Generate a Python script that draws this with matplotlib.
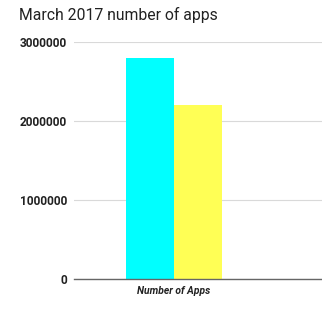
import matplotlib
matplotlib.use('Agg')
import matplotlib.pyplot as plt

# data
category = 'Number of Apps'
series_names = ['Google Play', 'Apple App Store']
values = [2800000, 2200000]
colors = ['#00ffff', '#ffff55']
yticks = [0, 1000000, 2000000, 3000000]

fig = plt.figure(figsize=(3.22, 3.16), dpi=100)
ax = fig.add_axes([0.2298, 0.117, 0.7702, 0.75])

offsets = [-0.5, 0.5]
for off, v, c, name in zip(offsets, values, colors, series_names):
    ax.bar(off, v, width=1.0, color=c, label=name, zorder=2)

ax.set_xlim(-2.08, 3.08)
ax.set_ylim(0, 3000000)
ax.set_yticks(yticks)
ax.set_yticklabels([str(t) for t in yticks], fontsize=8.6, fontweight='bold',
                   family='Roboto', color='#222222')
ax.set_xticks([0])
ax.set_xticklabels([category], fontsize=7.4, fontweight='bold', style='italic',
                   family='Roboto', color='#222222')
ax.tick_params(length=0, pad=5)
ax.yaxis.grid(True, color='#d9d9d9', linewidth=0.8, zorder=0)
for s in ['top', 'right', 'left']:
    ax.spines[s].set_visible(False)
ax.spines['bottom'].set_color('#666666')
ax.spines['bottom'].set_linewidth(1.0)
ax.spines['bottom'].set_zorder(3)

fig.text(0.059, 0.952, 'March 2017 number of apps', fontsize=11.3, family='Roboto',
         color='#222222', va='center', ha='left')

fig.savefig('out.png', dpi=100)
